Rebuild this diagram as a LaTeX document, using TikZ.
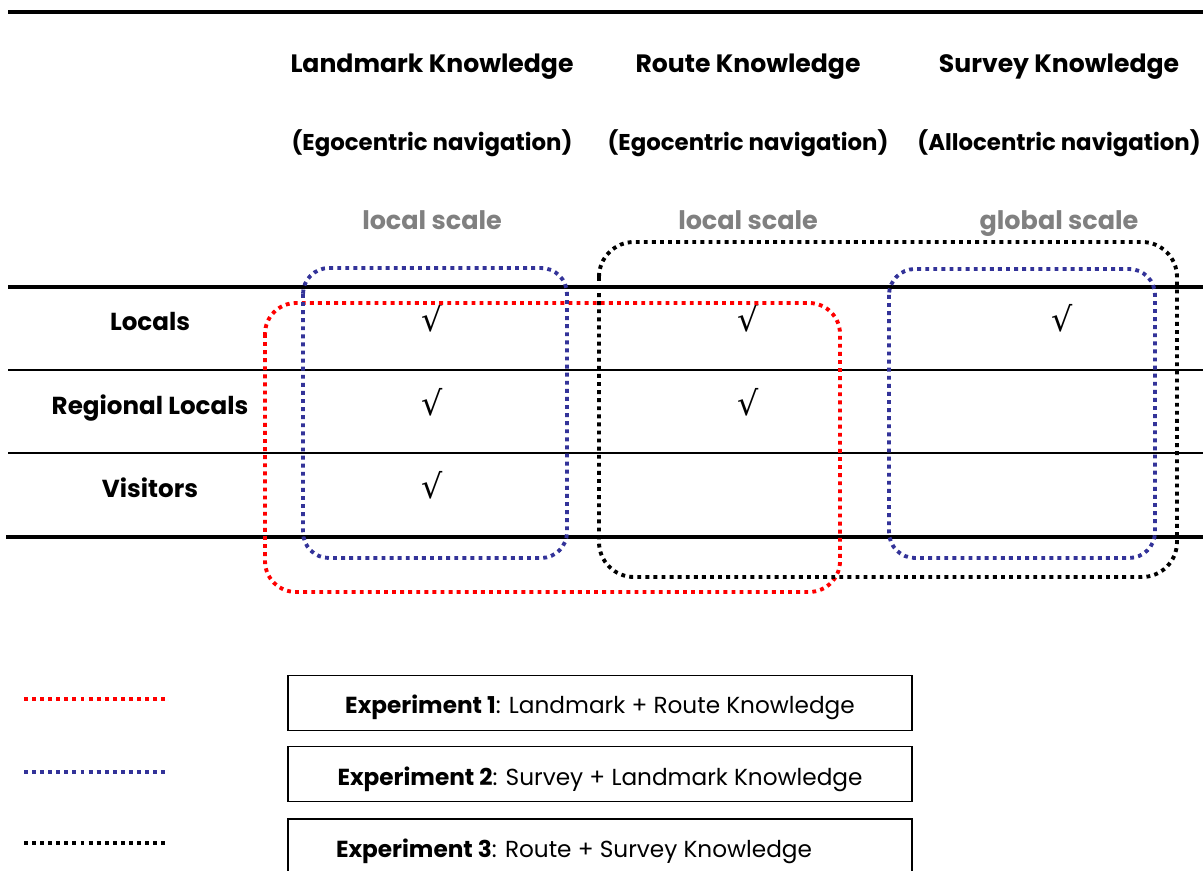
\documentclass[tikz,border=0pt]{standalone}
\usepackage{fontspec}
\setmainfont{Poppins}
\newfontfamily\checkfont{DejaVu Sans}
\definecolor{exred}{RGB}{255,0,0}
\definecolor{exblue}{RGB}{51,51,153}
\definecolor{scalegray}{RGB}{128,128,128}
\begin{document}
\begin{tikzpicture}[x=0.02cm,y=-0.02cm,
		head/.style={anchor=base, font=\fontsize{14.3}{16}\selectfont\bfseries},
		nav/.style={anchor=base, font=\fontsize{13}{15}\selectfont\bfseries},
		scl/.style={anchor=base, font=\fontsize{14.5}{16}\selectfont\bfseries, text=scalegray},
		rowlab/.style={anchor=base, font=\fontsize{14}{16}\selectfont\bfseries},
		tick/.style={anchor=base, font=\checkfont\fontsize{19}{21}\selectfont},
		dots/.style={line width=2.2pt, dash pattern=on 2.2pt off 2.4pt},
		legbox/.style={draw, line width=1pt, minimum width=624*0.02cm, minimum height=55*0.02cm, inner sep=0pt},
		legtext/.style={anchor=base, font=\fontsize{13.2}{15}\selectfont}]
		
		\useasboundingbox (0,0) rectangle (1203,871);
		\clip (0,0) rectangle (1203,871);
		
		% column heads
		\node[head] (LK) at (432,73) {Landmark Knowledge};
		\node[head] (RK) at (748,73) {Route Knowledge};
		\node[head] (SK) at (1059,73) {Survey Knowledge};
		\node[nav] (LN) at (432,151) {(Egocentric navigation)};
		\node[nav] (RN) at (748,151) {(Egocentric navigation)};
		\node[nav] (SN) at (1059,151) {(Allocentric navigation)};
		\node[scl] (LS) at (432,230) {local scale};
		\node[scl] (RS) at (748,230) {local scale};
		\node[scl] (SS) at (1059,230) {global scale};
		
		% rows
		\node[rowlab] (R1) at (150,331) {Locals};
		\node[rowlab] (R2) at (150,414) {Regional Locals};
		\node[rowlab] (R3) at (150,497) {Visitors};
		
		\node[tick] (c11) at (432,332) {√};
		\node[tick] (c12) at (748,332) {√};
		\node[tick] (c13) at (1062,332) {√};
		\node[tick] (c21) at (432,415) {√};
		\node[tick] (c22) at (748,415) {√};
		\node[tick] (c31) at (432,498) {√};
		
		% table rules
		\draw[line width=2.3pt] (8,12) -- (1203,12);
		\draw[line width=2.1pt] (8,287) -- (1203,287);
		\draw[line width=0.9pt] (8,370) -- (1203,370);
		\draw[line width=0.9pt] (8,453) -- (1203,453);
		\draw[line width=1.9pt] (6,537) -- (1203,537);
		
		% experiment groups
		\draw[dots, exred, rounded corners=0.62cm] (265,303) rectangle (840,592);
		\draw[dots, exblue, rounded corners=0.52cm] (303,268) rectangle (567,558);
		\draw[dots, exblue, rounded corners=0.52cm] (889,269) rectangle (1155,558);
		\draw[dots, black, rounded corners=0.7cm] (599,242) rectangle (1177,577);
		
		% legend
		\coordinate (a1) at (24,699);
		\coordinate (b1) at (168,699);
		\coordinate (a2) at (24,772);
		\coordinate (b2) at (168,772);
		\coordinate (a3) at (24,843);
		\coordinate (b3) at (168,843);
		\draw[dots, exred] (a1) -- (b1);
		\draw[dots, exblue] (a2) -- (b2);
		\draw[dots, black] (a3) -- (b3);
		
		\node[legbox] (E1) at (600,703) {};
		\node[legbox] (E2) at (600,774) {};
		\node[legbox, minimum height=60*0.02cm] (E3) at (600,849) {};
		\node[legtext] (T1) at (600,713) {\textbf{Experiment 1}: Landmark + Route Knowledge};
		\node[legtext] (T2) at (600,785) {\textbf{Experiment 2}: Survey + Landmark Knowledge};
		\node[legtext] (T3) at (574,857) {\textbf{Experiment 3}: Route + Survey Knowledge};
	\end{tikzpicture}
\end{document}
